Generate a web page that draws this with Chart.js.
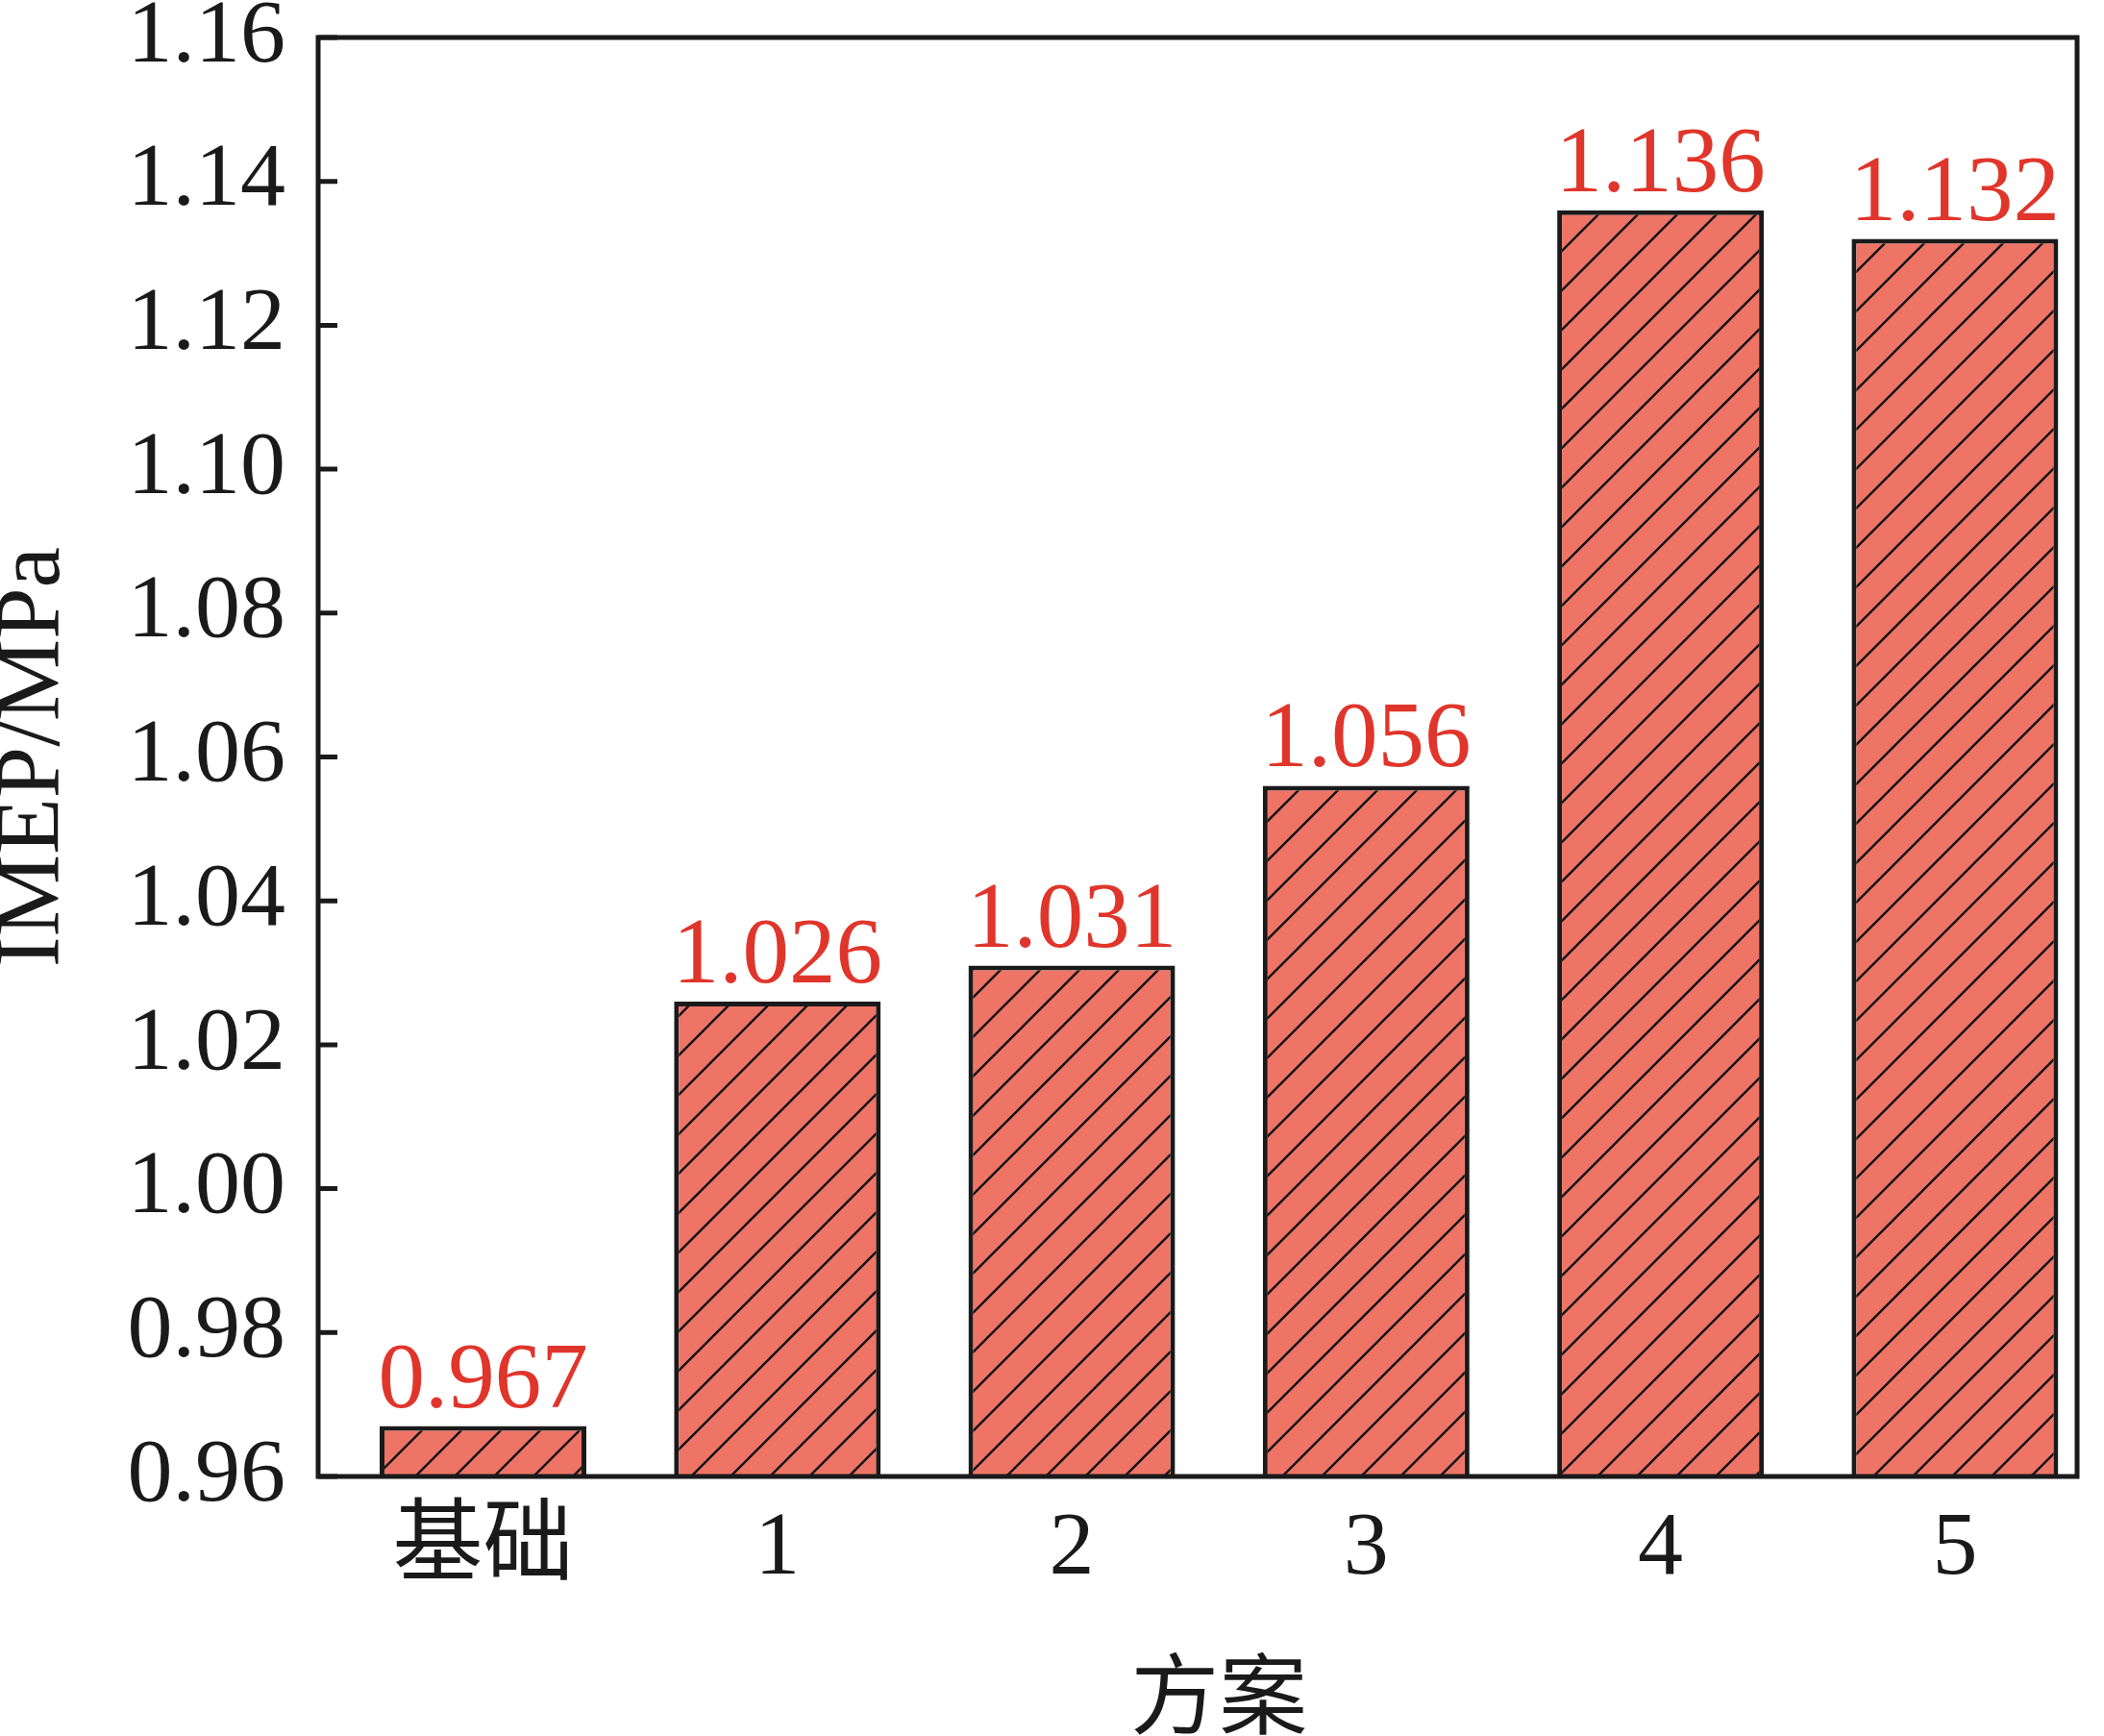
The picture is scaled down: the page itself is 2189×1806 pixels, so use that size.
<!DOCTYPE html>
<html>
<head>
<meta charset="utf-8">
<script src="https://cdn.jsdelivr.net/npm/chart.js@4.4.1/dist/chart.umd.min.js"></script>
<style>
  html, body { margin: 0; padding: 0; background: #fff; }
  #chart { display: block; }
</style>
</head>
<body>
<canvas id="chart" width="2189" height="1806"></canvas>
<script>
// data
const categories = ['基础', '1', '2', '3', '4', '5'];
const imepValues = [0.967, 1.026, 1.031, 1.056, 1.136, 1.132];
const yTickLabels = ['0.96', '0.98', '1.00', '1.02', '1.04', '1.06', '1.08', '1.10', '1.12', '1.14', '1.16'];
const xTitle = '方案';
const yTitle = 'IMEP/MPa';

const serif = '"Liberation Serif", "Noto Sans CJK SC", serif';
const barFill = '#ee7466';
const ink = '#1a1a1a';
const labelRed = '#e0352b';

// diagonal "/" hatch on the salmon fill
function makeHatch() {
    const s = 41;
    const c = document.createElement('canvas');
    c.width = s; c.height = s;
    const g = c.getContext('2d');
    g.fillStyle = barFill;
    g.fillRect(0, 0, s, s);
    g.strokeStyle = '#111';
    g.lineWidth = 2.4;
    g.beginPath();
    g.moveTo(-2, s + 2); g.lineTo(s + 2, -2);
    g.moveTo(-s / 2 - 2, s / 2 + 2); g.lineTo(s / 2 + 2, -s / 2 - 2);
    g.moveTo(s / 2 - 2, s * 1.5 + 2); g.lineTo(s * 1.5 + 2, s / 2 - 2);
    g.stroke();
    return g.createPattern(c, 'repeat');
}

// frame box + inward y ticks + value labels + x title
const framePlugin = {
    id: 'frame',
    afterDatasetsDraw(chart) {
        const { ctx, chartArea: a, scales } = chart;
        ctx.save();
        ctx.strokeStyle = ink;
        ctx.lineWidth = 5;
        ctx.strokeRect(a.left, a.top, a.right - a.left, a.bottom - a.top);
        ctx.beginPath();
        yTickLabels.forEach(t => {
            const y = scales.y.getPixelForValue(parseFloat(t));
            ctx.moveTo(a.left, y);
            ctx.lineTo(a.left + 20, y);
        });
        ctx.stroke();

        // value labels above bars
        ctx.fillStyle = labelRed;
        ctx.font = '97px ' + serif;
        ctx.textAlign = 'center';
        ctx.textBaseline = 'alphabetic';
        chart.getDatasetMeta(0).data.forEach((bar, i) => {
            ctx.fillText(imepValues[i].toFixed(3), bar.x, bar.y - 20);
        });

        // x axis title, centred under the bar group
        ctx.fillStyle = ink;
        ctx.font = '92px "Noto Sans CJK SC", ' + serif;
        ctx.textBaseline = 'middle';
        ctx.fillText(xTitle, scales.x.getPixelForValue((categories.length - 1) / 2), 1762);
        ctx.restore();
    }
};

const ctx = document.getElementById('chart').getContext('2d');
new Chart(ctx, {
    type: 'bar',
    data: {
        datasets: [{
            data: categories.map((c, i) => ({ x: i, y: imepValues[i] })),
            backgroundColor: makeHatch(),
            borderColor: ink,
            borderWidth: 5,
            borderSkipped: false,
            categoryPercentage: 1,
            barPercentage: 0.702
        }]
    },
    options: {
        responsive: false,
        devicePixelRatio: 1,
        animation: false,
        layout: { padding: { top: 39, right: 28, left: 0, bottom: 0 } },
        plugins: {
            legend: { display: false },
            tooltip: { enabled: false }
        },
        scales: {
            x: {
                type: 'linear',
                min: -0.56,
                max: 5.415,
                offset: false,
                grid: { display: false, drawTicks: false },
                border: { display: false },
                afterBuildTicks: axis => {
                    axis.ticks = categories.map((c, i) => ({ value: i }));
                },
                afterFit: axis => { axis.height = 270; },
                ticks: {
                    autoSkip: false,
                    maxRotation: 0,
                    padding: 20,
                    color: ink,
                    font: { family: serif, size: 94 },
                    callback: v => categories[v]
                }
            },
            y: {
                min: 0.96,
                max: 1.16,
                // invisible tick marks just hold the labels off the axis
                grid: { display: false, drawTicks: true, tickLength: 34 },
                border: { display: false },
                afterFit: axis => { axis.width = 331; },
                afterBuildTicks: axis => {
                    axis.ticks = yTickLabels.map(t => ({ value: parseFloat(t) }));
                },
                ticks: {
                    padding: 0,
                    color: ink,
                    font: { family: serif, size: 94, lineHeight: 0.8 },
                    callback: (v, i) => yTickLabels[i]
                },
                title: {
                    display: true,
                    text: yTitle,
                    color: ink,
                    padding: 0,
                    font: { family: serif, size: 96, lineHeight: 0.75 }
                }
            }
        }
    },
    plugins: [framePlugin]
});
</script>
</body>
</html>
